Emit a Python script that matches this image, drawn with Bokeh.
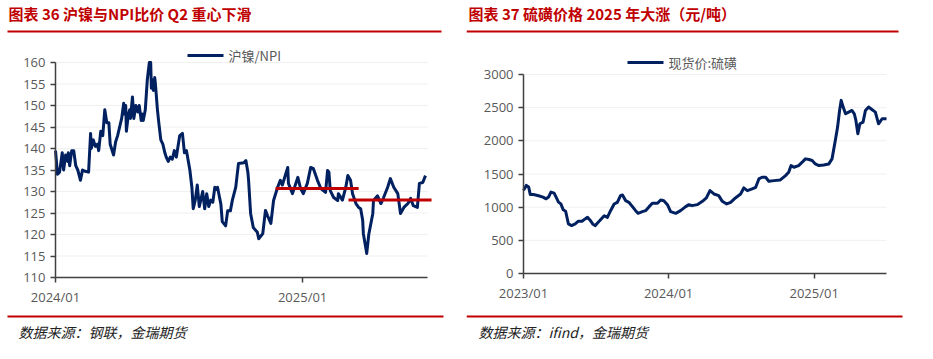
import pandas as pd
from bokeh.plotting import figure
from bokeh.models import (Range1d, FixedTicker, DatetimeTickFormatter, DatetimeAxis, LinearAxis,
                          ColumnDataSource, Label, BoxAnnotation)
from bokeh.layouts import row, column
from bokeh.embed import file_html
from bokeh.resources import INLINE

# ---------------- texts ----------------
title_left = "图表 36 沪镍与NPI比价 Q2 重心下滑"
title_right = "图表 37 硫磺价格 2025 年大涨（元/吨）"
source_left = "数据来源：钢联，金瑞期货"
source_right = "数据来源：ifind，金瑞期货"
ni_label = "沪镍/NPI"
s_label = "现货价:硫磺"

# ---------------- left chart data: 沪镍/NPI ----------------
ni_dates = [
    "2024-01-01", "2024-01-04", "2024-01-07", "2024-01-11", "2024-01-13", "2024-01-16", "2024-01-19", "2024-01-20", "2024-01-22", "2024-01-25",
    "2024-01-28", "2024-01-31", "2024-02-03", "2024-02-07", "2024-02-10", "2024-02-14", "2024-02-19", "2024-02-22", "2024-02-23", "2024-02-26",
    "2024-02-29", "2024-03-03", "2024-03-05", "2024-03-08", "2024-03-11", "2024-03-14", "2024-03-17", "2024-03-20", "2024-03-22", "2024-03-27",
    "2024-03-30", "2024-04-02", "2024-04-05", "2024-04-08", "2024-04-11", "2024-04-12", "2024-04-14", "2024-04-15", "2024-04-18", "2024-04-20",
    "2024-04-21", "2024-04-24", "2024-04-26", "2024-04-29", "2024-05-02", "2024-05-04", "2024-05-07", "2024-05-09", "2024-05-10", "2024-05-13",
    "2024-05-16", "2024-05-19", "2024-05-21", "2024-05-22", "2024-05-24", "2024-05-25", "2024-05-27", "2024-05-28", "2024-05-31", "2024-06-02",
    "2024-06-05", "2024-06-08", "2024-06-11", "2024-06-13", "2024-06-16", "2024-06-19", "2024-06-22", "2024-06-25", "2024-06-28", "2024-07-03",
    "2024-07-07", "2024-07-10", "2024-07-13", "2024-07-18", "2024-07-21", "2024-07-23", "2024-07-26", "2024-07-29", "2024-08-01", "2024-08-06",
    "2024-08-09", "2024-08-12", "2024-08-15", "2024-08-18", "2024-08-21", "2024-08-24", "2024-08-27", "2024-08-28", "2024-09-02", "2024-09-04",
    "2024-09-09", "2024-09-12", "2024-09-16", "2024-09-19", "2024-09-24", "2024-09-28", "2024-10-06", "2024-10-09", "2024-10-12", "2024-10-13",
    "2024-10-16", "2024-10-20", "2024-10-26", "2024-10-28", "2024-11-03", "2024-11-07", "2024-11-10", "2024-11-15", "2024-11-19", "2024-11-25",
    "2024-11-29", "2024-12-02", "2024-12-10", "2024-12-11", "2024-12-17", "2024-12-25", "2024-12-29", "2025-01-02", "2025-01-08", "2025-01-13",
    "2025-01-17", "2025-01-23", "2025-01-28", "2025-02-04", "2025-02-07", "2025-02-09", "2025-02-11", "2025-02-16", "2025-02-22", "2025-02-23",
    "2025-03-01", "2025-03-06", "2025-03-09", "2025-03-13", "2025-03-16", "2025-03-21", "2025-03-25", "2025-03-28", "2025-03-31", "2025-04-01",
    "2025-04-06", "2025-04-09", "2025-04-15", "2025-04-16", "2025-04-22", "2025-04-27", "2025-05-01", "2025-05-07", "2025-05-11", "2025-05-16",
    "2025-05-22", "2025-05-26", "2025-05-31", "2025-06-06", "2025-06-10", "2025-06-14", "2025-06-20", "2025-06-23", "2025-06-28", "2025-07-02",
]
ni_values = [
    139.5, 134.0, 134.5, 139.0, 135.0, 138.5, 137.0, 139.0, 136.0, 139.5,
    139.5, 136.0, 135.0, 132.6, 135.0, 134.7, 134.5, 143.5, 140.0, 142.0,
    140.5, 141.0, 139.5, 144.0, 143.0, 149.0, 146.0, 146.0, 141.0, 138.5,
    141.5, 143.0, 145.0, 147.0, 150.5, 148.0, 150.0, 144.0, 148.0, 149.0,
    147.0, 152.0, 147.0, 150.0, 148.5, 150.0, 146.5, 148.0, 146.5, 149.0,
    156.0, 160.0, 160.0, 154.0, 156.0, 153.5, 156.5, 155.0, 149.0, 146.0,
    142.0, 141.0, 139.0, 138.0, 137.0, 138.0, 137.5, 139.5, 138.0, 143.0,
    143.5, 139.0, 139.5, 135.0, 131.0, 126.0, 128.0, 131.5, 126.5, 130.0,
    126.0, 129.5, 126.5, 128.0, 127.5, 131.0, 130.5, 131.0, 127.0, 123.0,
    122.0, 125.5, 125.5, 128.0, 131.0, 136.5, 136.7, 137.2, 134.4, 132.6,
    124.9, 121.6, 120.5, 119.0, 120.2, 125.6, 124.4, 122.6, 127.9, 131.0,
    132.6, 131.5, 135.6, 131.9, 129.5, 133.3, 130.7, 129.5, 131.9, 135.6,
    135.3, 132.6, 130.7, 129.8, 134.9, 134.5, 130.2, 128.6, 127.9, 129.5,
    128.0, 131.0, 133.7, 132.6, 129.5, 127.2, 126.3, 126.0, 123.3, 120.2,
    115.6, 120.0, 124.9, 127.9, 129.0, 127.2, 128.6, 131.0, 133.0, 131.0,
    129.5, 124.9, 126.3, 127.2, 128.4, 126.7, 126.3, 131.9, 132.1, 133.7,
]
# average lines (red)
ni_ref_start = ["2024-11-22", "2025-03-10"]
ni_ref_end = ["2025-03-25", "2025-07-11"]
ni_ref_value = [130.7, 128.0]
ni_yticks = [110, 115, 120, 125, 130, 135, 140, 145, 150, 155, 160]
ni_xticks = ["2024-01-01", "2025-01-01"]
ni_xrange = ["2024-01-01", "2025-07-05"]

# ---------------- right chart data: 现货价:硫磺 ----------------
s_dates = [
    "2023-01-01", "2023-01-08", "2023-01-14", "2023-01-18", "2023-01-26", "2023-02-08", "2023-02-19", "2023-02-27", "2023-03-05", "2023-03-11",
    "2023-03-19", "2023-03-24", "2023-03-30", "2023-04-05", "2023-04-11", "2023-04-17", "2023-04-24", "2023-05-02", "2023-05-11", "2023-05-19",
    "2023-05-28", "2023-06-05", "2023-06-11", "2023-06-17", "2023-06-24", "2023-06-30", "2023-07-08", "2023-07-23", "2023-07-31", "2023-08-08",
    "2023-08-17", "2023-08-25", "2023-09-02", "2023-09-07", "2023-09-15", "2023-09-23", "2023-10-02", "2023-10-10", "2023-10-16", "2023-10-27",
    "2023-11-04", "2023-11-13", "2023-11-21", "2023-12-04", "2023-12-12", "2023-12-20", "2023-12-29",
    "2024-01-06", "2024-01-19", "2024-01-31", "2024-02-13", "2024-02-21", "2024-02-29", "2024-03-13", "2024-03-26", "2024-04-05", "2024-04-14",
    "2024-04-24", "2024-05-06", "2024-05-15", "2024-05-26", "2024-06-05", "2024-06-17", "2024-06-30", "2024-07-08", "2024-07-17", "2024-07-29",
    "2024-08-07", "2024-08-15", "2024-08-23", "2024-09-01", "2024-09-09", "2024-09-22", "2024-10-08", "2024-10-21", "2024-10-29", "2024-11-04",
    "2024-11-11", "2024-11-23", "2024-12-02", "2024-12-10", "2024-12-19", "2024-12-27",
    "2025-01-04", "2025-01-13", "2025-01-25", "2025-02-07", "2025-02-15", "2025-02-24", "2025-03-01", "2025-03-06", "2025-03-10", "2025-03-15",
    "2025-03-21", "2025-03-29", "2025-04-06", "2025-04-12", "2025-04-16", "2025-04-21", "2025-04-26", "2025-05-04", "2025-05-10", "2025-05-18",
    "2025-05-27", "2025-06-04", "2025-06-12", "2025-06-21", "2025-07-02",
]
s_values = [
    1253, 1328, 1303, 1192, 1192, 1172, 1152, 1126, 1152, 1227,
    1212, 1152, 1076, 1050, 960, 939, 747, 722, 747, 788,
    788, 823, 848, 808, 747, 722, 773, 871, 846, 947,
    1048, 1073, 1174, 1184, 1098, 1073, 1008, 947, 907, 932,
    947, 1008, 1058, 1058, 1108, 1098, 1038,
    932, 907, 947, 1008, 1038, 1023, 1038, 1088, 1139, 1249,
    1199, 1174, 1088, 1048, 1073, 1139, 1199, 1290, 1249, 1275,
    1300, 1426, 1451, 1451, 1390, 1400, 1411, 1476, 1526, 1627,
    1602, 1627, 1678, 1728, 1718, 1703,
    1652, 1627, 1637, 1652, 1728, 2030, 2207, 2458, 2610, 2509,
    2408, 2433, 2458, 2408, 2307, 2106, 2257, 2282, 2458, 2509,
    2469, 2433, 2257, 2333, 2333,
]
s_yticks = [0, 500, 1000, 1500, 2000, 2500, 3000]
s_xticks = ["2023-01-01", "2024-01-01", "2025-01-01"]
s_xrange = ["2023-01-01", "2025-07-02"]

# ---------------- styles ----------------
NAVY = "#002060"
RED = "#c00000"
GRAY = "#595959"
AXIS = "#404040"
GRID = "#f0f0f0"
CJK = "Noto Sans CJK SC"
LAT = "Open Sans"
PANEL_H = 357


def ms(d):
    return pd.Timestamp(d).value / 1e6


def panel(width, xr, yr, yticks, xticks, frame, title, source, title_pos, source_pos,
          head_line, foot_line, legend_label, legend_pos):
    """frame = (left, top, right, bottom) of the plotting area in panel pixels.
    The Bokeh frame covers the whole panel; the ranges are widened so that the
    data extents land exactly on the plotting area, and the axes are pinned."""
    fl, ft, fr, fb = frame
    x0, x1 = ms(xr[0]), ms(xr[1])
    y0, y1 = yr
    kx = (x1 - x0) / (fr - fl)
    ky = (y1 - y0) / (fb - ft)
    p = figure(width=width, height=PANEL_H,
               x_range=Range1d(x0 - fl * kx, x1 + (width - fr) * kx),
               y_range=Range1d(y0 - (PANEL_H - fb) * ky, y1 + ft * ky),
               min_border=0, x_axis_location=None, y_axis_location=None,
               toolbar_location=None, output_backend="svg", outline_line_color=None)
    p.grid.visible = False

    # faint horizontal grid lines across the plotting area
    p.segment(x0=[x0] * len(yticks), x1=[x1] * len(yticks), y0=yticks, y1=yticks,
              line_color=GRID, line_width=1)

    fmt = "%Y/%m"
    xaxis = DatetimeAxis(fixed_location=y0, bounds=(x0, x1),
                         ticker=FixedTicker(ticks=[ms(t) for t in xticks]),
                         formatter=DatetimeTickFormatter(milliseconds=fmt, seconds=fmt, minsec=fmt,
                                                         minutes=fmt, hourmin=fmt, hours=fmt,
                                                         days=fmt, months=fmt, years=fmt))
    yaxis = LinearAxis(fixed_location=x0, bounds=(y0, y1), ticker=FixedTicker(ticks=yticks))
    for ax in (xaxis, yaxis):
        ax.axis_line_color = AXIS
        ax.axis_line_width = 1.5
        ax.major_tick_line_color = AXIS
        ax.major_tick_line_width = 1.5
        ax.major_tick_out = 5
        ax.major_tick_in = 0
        ax.minor_tick_line_color = None
        ax.major_label_text_font = LAT
        ax.major_label_text_font_size = "13px"
        ax.major_label_text_color = GRAY
        ax.major_label_standoff = 5
    p.add_layout(xaxis, "below")
    p.add_layout(yaxis, "left")

    # panel pixel -> "screen" units (y measured upward from the bottom)
    def sx(x):
        return x

    def sy(y):
        return PANEL_H - y

    def bar(a, b, y, half, color):
        p.add_layout(BoxAnnotation(left=sx(a), right=sx(b), top=sy(y - half), bottom=sy(y + half),
                                   left_units="screen", right_units="screen",
                                   top_units="screen", bottom_units="screen",
                                   fill_color=color, fill_alpha=1, line_color=None, level="overlay"))

    p.add_layout(Label(x=sx(title_pos[0]), y=sy(title_pos[1]), x_units="screen", y_units="screen",
                       text=title, text_font=CJK, text_font_size="15px", text_color=RED,
                       text_font_style="bold", text_baseline="middle", text_align="left"))
    p.add_layout(Label(x=sx(source_pos[0]), y=sy(source_pos[1]), x_units="screen", y_units="screen",
                       text=source, text_font=CJK, text_font_size="14px", text_color="#222222",
                       text_font_style="italic", text_baseline="middle", text_align="left"))
    bar(head_line[0], head_line[1], head_line[2], 1, RED)
    bar(foot_line[0], foot_line[1], foot_line[2], 1, RED)
    # legend: sample line + label
    lx, ly = legend_pos
    bar(lx, lx + 36, ly, 1.5, NAVY)
    p.add_layout(Label(x=sx(lx + 41), y=sy(ly), x_units="screen", y_units="screen",
                       text=legend_label, text_font=CJK, text_font_size="13px", text_color=GRAY,
                       text_baseline="middle", text_align="left"))
    return p


# ---------------- left panel ----------------
ni_src = ColumnDataSource(dict(date=pd.to_datetime(ni_dates), val=ni_values))
ref_src = ColumnDataSource(dict(x0=pd.to_datetime(ni_ref_start), x1=pd.to_datetime(ni_ref_end), y=ni_ref_value))

pl = panel(466, ni_xrange, (110, 160), ni_yticks, ni_xticks, (55, 62, 427, 277),
           title_left, source_left, (8, 13), (18, 331), (7, 441, 31), (7, 443, 316),
           ni_label, (187, 55))
pl.line("date", "val", source=ni_src, line_color=NAVY, line_width=3, line_join="round")
pl.segment(x0="x0", y0="y", x1="x1", y1="y", source=ref_src, line_color=RED, line_width=3)

# ---------------- right panel ----------------
s_src = ColumnDataSource(dict(date=pd.to_datetime(s_dates), val=s_values))
pr = panel(465, s_xrange, (0, 3000), s_yticks, s_xticks, (57, 74, 420, 273),
           title_right, source_right, (2, 13), (12, 331), (0, 432, 31), (0, 436, 316),
           s_label, (161, 62))
pr.line("date", "val", source=s_src, line_color=NAVY, line_width=3, line_join="round")

layout = row(column(pl), column(pr))

open("out.html", "w").write(file_html(layout, INLINE))
